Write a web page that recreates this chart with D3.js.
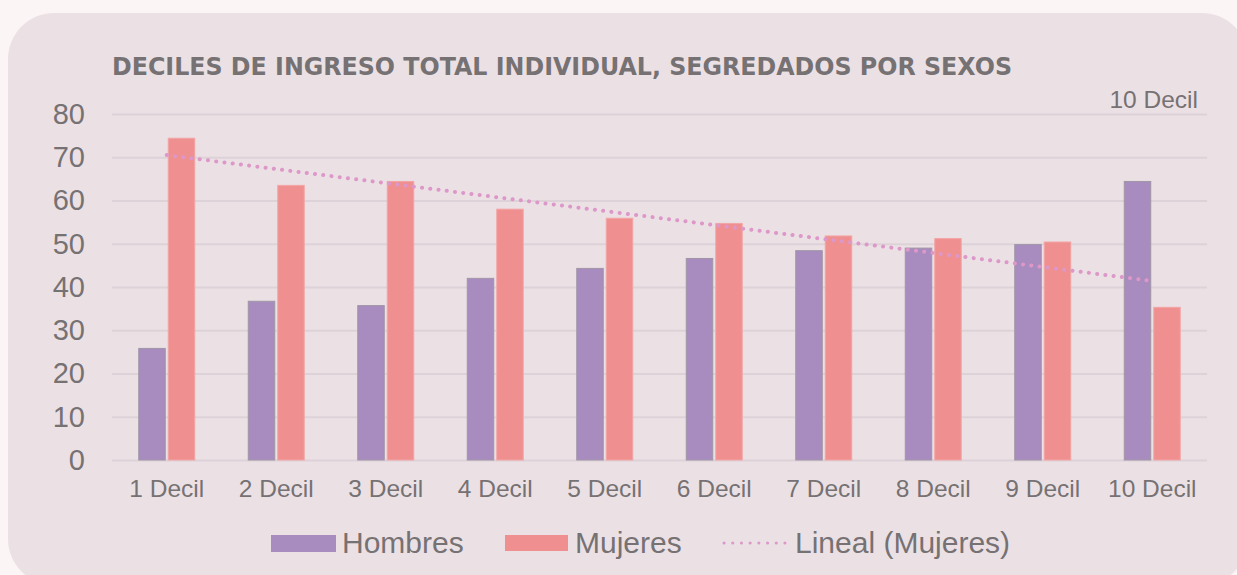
<!DOCTYPE html>
<html>
<head>
<meta charset="utf-8">
<script src="https://cdn.jsdelivr.net/npm/d3@7"></script>
<style>
  html, body { margin: 0; padding: 0; background: #fbf5f5; }
  svg { display: block; }
</style>
</head>
<body>
<div id="chart"></div>
<script>
// data
const categories = ["1 Decil", "2 Decil", "3 Decil", "4 Decil", "5 Decil",
                    "6 Decil", "7 Decil", "8 Decil", "9 Decil", "10 Decil"];
const hombres = [25.8, 36.7, 35.7, 42.0, 44.3, 46.6, 48.4, 49.0, 49.8, 64.4];
const mujeres = [74.4, 63.5, 64.4, 58.0, 55.9, 54.7, 51.8, 51.2, 50.4, 35.3];
// trend line (Excel "Lineal") ends: first and last decil
const trendLineal = [70.5, 41.4];
const yTicks = [0, 10, 20, 30, 40, 50, 60, 70, 80];

const W = 1237, H = 575;
const colH = "#a88bbf", colM = "#f08f8f", colTrend = "#dd97c8";
const textCol = "#767173", gridCol = "#dcd2d7";

const svg = d3.select("#chart").append("svg")
    .attr("width", W).attr("height", H);

svg.append("rect").attr("width", W).attr("height", H).attr("fill", "#fbf5f5");

// card
svg.append("rect")
    .attr("x", 8).attr("y", 13)
    .attr("width", 1240).attr("height", 572)
    .attr("rx", 46).attr("ry", 46)
    .attr("fill", "#ebe1e5");

// title
svg.append("text")
    .attr("x", 112).attr("y", 75)
    .attr("textLength", 900).attr("lengthAdjust", "spacingAndGlyphs")
    .style("font-family", "'DejaVu Sans', sans-serif")
    .style("font-weight", "bold")
    .style("font-size", "24px")
    .style("fill", textCol)
    .text("DECILES DE INGRESO TOTAL INDIVIDUAL, SEGREDADOS POR SEXOS");

svg.append("text")
    .attr("x", 1198).attr("y", 108)
    .attr("text-anchor", "end")
    .style("font-family", "'Liberation Sans', Arial, sans-serif")
    .style("font-size", "24.5px")
    .style("fill", textCol)
    .text("10 Decil");

const plotL = 112, plotR = 1207, plotT = 114, plotB = 460;

const x = d3.scaleBand().domain(categories).range([plotL, plotR]).padding(0);
const y = d3.scaleLinear().domain([0, 80]).range([plotB, plotT]);

// y axis + gridlines
const yAxis = svg.append("g")
    .attr("transform", `translate(${plotL},0)`)
    .call(d3.axisLeft(y).tickValues(yTicks).tickSize(-(plotR - plotL)).tickPadding(27));
yAxis.select(".domain").remove();
yAxis.selectAll(".tick line").attr("stroke", gridCol).attr("stroke-width", 2);
yAxis.selectAll(".tick text")
    .style("font-family", "'Liberation Sans', Arial, sans-serif")
    .style("font-size", "29px")
    .style("fill", textCol);

// x axis labels
const xAxis = svg.append("g")
    .attr("transform", `translate(0,${plotB})`)
    .call(d3.axisBottom(x).tickSize(0).tickPadding(20));
xAxis.select(".domain").remove();
xAxis.selectAll(".tick text")
    .attr("dy", "0.71em")
    .style("font-family", "'Liberation Sans', Arial, sans-serif")
    .style("font-size", "24.5px")
    .style("fill", textCol);

// bars
const barW = 26.5, gap = 3;
const series = [
    { name: "Hombres", values: hombres, color: colH, stroke: "#a096a6", off: -gap / 2 - barW },
    { name: "Mujeres", values: mujeres, color: colM, stroke: "#f3a5a5", off: gap / 2 }
];

series.forEach(s => {
    svg.append("g").selectAll("rect")
        .data(s.values)
        .join("rect")
        .attr("x", (d, i) => x(categories[i]) + x.bandwidth() / 2 + s.off)
        .attr("y", d => y(d))
        .attr("width", barW)
        .attr("height", d => y(0) - y(d))
        .attr("fill", s.color)
        .attr("stroke", s.stroke)
        .attr("stroke-width", 1);
});

// trend line
const trendPts = [
    [categories[0], trendLineal[0]],
    [categories[categories.length - 1], trendLineal[1]]
];
svg.append("path")
    .datum(trendPts)
    .attr("d", d3.line()
        .x(d => x(d[0]) + x.bandwidth() / 2)
        .y(d => y(d[1])))
    .attr("fill", "none")
    .attr("stroke", colTrend)
    .attr("stroke-width", 4)
    .attr("stroke-linecap", "round")
    .attr("stroke-dasharray", "0.1 8.2");

// legend
const legend = svg.append("g")
    .style("font-family", "'Liberation Sans', Arial, sans-serif")
    .style("font-size", "30px")
    .style("fill", textCol);

legend.append("rect").attr("x", 271).attr("y", 535).attr("width", 65).attr("height", 17).attr("fill", colH);
legend.append("text").attr("x", 342).attr("y", 553).text("Hombres");

legend.append("rect").attr("x", 505).attr("y", 535).attr("width", 63).attr("height", 16).attr("fill", colM);
legend.append("text").attr("x", 575).attr("y", 553).text("Mujeres");

legend.append("line")
    .attr("x1", 724).attr("x2", 785).attr("y1", 543).attr("y2", 543)
    .attr("stroke", colTrend).attr("stroke-width", 3)
    .attr("stroke-linecap", "round").attr("stroke-dasharray", "0.1 8.6");
legend.append("text").attr("x", 795).attr("y", 553).text("Lineal (Mujeres)");
</script>
</body>
</html>
